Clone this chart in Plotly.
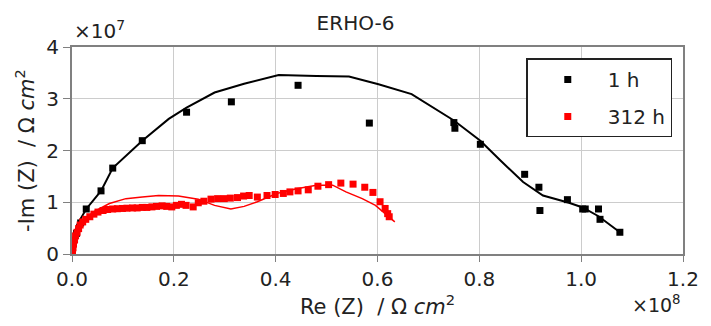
import plotly.graph_objects as go

# units: Re(Z) in 1e8 Ohm cm2, -Im(Z) in 1e7 Ohm cm2
x_1h = [0.003, 0.009, 0.017, 0.028, 0.057, 0.080, 0.138, 0.225, 0.313, 0.444,
        0.584, 0.750, 0.752, 0.802, 0.889, 0.917, 0.919, 0.973, 1.003, 1.008,
        1.034, 1.037, 1.076]
y_1h = [0.22, 0.40, 0.60, 0.87, 1.22, 1.66, 2.19, 2.74, 2.94, 3.26,
        2.53, 2.54, 2.43, 2.12, 1.54, 1.29, 0.84, 1.05, 0.87, 0.87,
        0.87, 0.67, 0.42]

x_fit_1h = [0.0, 0.0025, 0.0097, 0.028, 0.057, 0.080, 0.138, 0.190, 0.225, 0.280,
            0.338, 0.406, 0.480, 0.544, 0.602, 0.667, 0.750, 0.802, 0.841, 0.886,
            0.925, 0.976, 1.003, 1.034, 1.076]
y_fit_1h = [0.0, 0.27, 0.56, 0.87, 1.22, 1.66, 2.19, 2.61, 2.83, 3.12,
            3.29, 3.46, 3.44, 3.43, 3.28, 3.09, 2.58, 2.19, 1.81, 1.39,
            1.13, 0.99, 0.90, 0.73, 0.42]

x_312h = [0.001, 0.002, 0.003, 0.005, 0.007, 0.010, 0.013, 0.016, 0.021, 0.027,
          0.035, 0.043, 0.051, 0.061, 0.070, 0.080, 0.089, 0.099, 0.108, 0.119,
          0.128, 0.138, 0.147, 0.157, 0.166, 0.177, 0.186, 0.196, 0.205, 0.215,
          0.224, 0.238, 0.248, 0.259, 0.273, 0.286, 0.299, 0.311, 0.325, 0.337,
          0.348, 0.364, 0.383, 0.399, 0.415, 0.428, 0.444, 0.464, 0.483, 0.504,
          0.528, 0.552, 0.575, 0.591, 0.605, 0.615, 0.620, 0.623]
y_312h = [0.04, 0.12, 0.19, 0.27, 0.35, 0.42, 0.49, 0.56, 0.62, 0.67,
          0.72, 0.77, 0.81, 0.84, 0.86, 0.87, 0.875, 0.88, 0.885, 0.89,
          0.89, 0.90, 0.90, 0.91, 0.92, 0.93, 0.92, 0.91, 0.94, 0.96,
          0.94, 0.91, 0.99, 1.02, 1.06, 1.07, 1.07, 1.08, 1.09, 1.12,
          1.13, 1.10, 1.13, 1.15, 1.17, 1.20, 1.22, 1.24, 1.31, 1.34,
          1.37, 1.35, 1.29, 1.19, 1.01, 0.88, 0.78, 0.72]

x_fit_312h = [0.0, 0.0039, 0.0091, 0.0219, 0.0412, 0.0735, 0.1058, 0.138, 0.170, 0.209,
              0.248, 0.280, 0.312, 0.338, 0.364, 0.402, 0.441, 0.480, 0.512, 0.538,
              0.570, 0.596, 0.615, 0.634]
y_fit_312h = [0.0, 0.17, 0.33, 0.59, 0.81, 0.975, 1.07, 1.10, 1.13, 1.12,
              1.06, 0.94, 0.87, 0.92, 1.01, 1.17, 1.26, 1.33, 1.33, 1.20,
              1.07, 0.94, 0.78, 0.62]

x_ticks = [0.0, 0.2, 0.4, 0.6, 0.8, 1.0, 1.2]
x_tick_text = ["0.0", "0.2", "0.4", "0.6", "0.8", "1.0", "1.2"]
y_ticks = [0, 1, 2, 3, 4]

FONT = "DejaVu Sans"
TXT = "#222222"
fig = go.Figure()

fig.add_trace(go.Scatter(x=x_fit_1h, y=y_fit_1h, mode="lines",
                         line=dict(color="black", width=2), showlegend=False))
fig.add_trace(go.Scatter(x=x_fit_312h, y=y_fit_312h, mode="lines",
                         line=dict(color="#ff0000", width=1.5), showlegend=False))
fig.add_trace(go.Scatter(x=x_1h, y=y_1h, mode="markers", name="1 h", legendgroup="a",
                         marker=dict(symbol="square", size=7, color="black")))
fig.add_trace(go.Scatter(x=x_312h, y=y_312h, mode="markers", name="312 h", legendgroup="b",
                         marker=dict(symbol="square", size=7, color="#ff0000")))

fig.update_layout(
    width=711, height=326,
    margin=dict(l=72, r=19, t=47, b=72),
    paper_bgcolor="white", plot_bgcolor="white",
    font=dict(family=FONT, size=20, color=TXT),
    title=dict(text="ERHO-6", x=0.5, xanchor="center", y=0.93, yanchor="middle",
               font=dict(family=FONT, size=20, color=TXT)),
    legend=dict(x=0.7435, y=0.945, xanchor="left", yanchor="top",
                bgcolor="white", bordercolor="#222222", borderwidth=1.5,
                font=dict(family=FONT, size=20, color=TXT),
                itemwidth=70, traceorder="grouped", tracegroupgap=8),
    xaxis=dict(range=[0, 1.2], tickvals=x_ticks, ticktext=x_tick_text,
               showgrid=True, gridcolor="#cccccc", gridwidth=1,
               showline=True, linecolor="#808080", linewidth=2, mirror=True,
               ticks="outside", ticklen=6, tickcolor="#808080",
               zeroline=False, tickfont=dict(size=20),
               title=dict(text="Re (Z)\u00a0\u00a0/ Ω <i>cm</i><sup>2</sup>", standoff=4,
                          font=dict(family=FONT, size=21))),
    yaxis=dict(range=[0, 4], tickvals=y_ticks,
               showgrid=True, gridcolor="#cccccc", gridwidth=1,
               showline=True, linecolor="#808080", linewidth=2, mirror=True,
               ticks="outside", ticklen=7, tickcolor="#808080",
               zeroline=False, tickfont=dict(size=20),
               title=dict(text="-Im (Z)\u00a0\u00a0/ Ω <i>cm</i><sup>2</sup>", standoff=6,
                          font=dict(family=FONT, size=21))),
)

fig.add_annotation(text="×10<sup>7</sup>", xref="paper", yref="paper",
                   x=0.0, y=1.0, xanchor="left", yanchor="bottom", yshift=2,
                   showarrow=False, font=dict(family=FONT, size=20, color=TXT))
fig.add_annotation(text="×10<sup>8</sup>", xref="paper", yref="paper",
                   x=1.0, y=0.0, xanchor="right", yanchor="top", yshift=-36,
                   showarrow=False, font=dict(family=FONT, size=19, color=TXT))

fig.write_html("out.html")
